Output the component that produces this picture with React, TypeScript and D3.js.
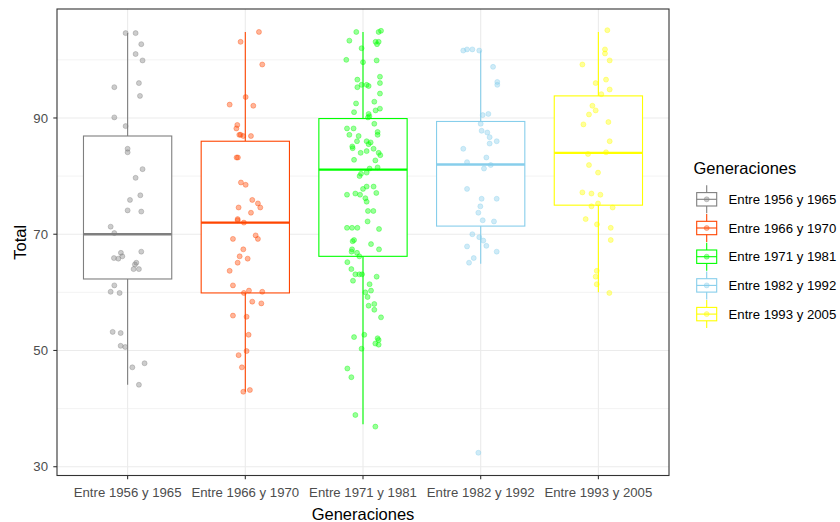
import React from "react";
import * as d3 from "d3";

// categorias y colores
const generaciones = [
  "Entre 1956 y 1965",
  "Entre 1966 y 1970",
  "Entre 1971 y 1981",
  "Entre 1982 y 1992",
  "Entre 1993 y 2005",
];
const colores = ["#7F7F7F", "#FF4500", "#00FF00", "#87CEEB", "#FFFF00"];

// estadisticos de las cajas
const bigoteInf = [44.1, 42.9, 37.3, 64.9, 60.0];
const q1 = [62.3, 59.9, 66.2, 71.4, 75.0];
const mediana = [70.0, 72.0, 81.1, 82.0, 84.0];
const q3 = [86.9, 86.0, 89.9, 89.4, 93.8];
const bigoteSup = [104.6, 104.8, 104.8, 101.6, 104.8];

const yTicks = [30, 50, 70, 90];
const yMinor = [40, 60, 80, 100];

// puntos: [desplazamiento jitter, Total]
const puntos1956: [number, number][] = [
  [-0.017, 104.6], [0.068, 104.6], [0.116, 102.7], [0.068, 101.0], [0.127, 99.9],
  [0.096, 96.0], [-0.113, 95.3], [0.105, 93.8], [-0.113, 90.1], [-0.017, 88.6],
  [0, 84.7], [0, 84.1], [0.127, 81.2], [0.068, 79.7], [0.108, 76.7],
  [0.02, 75.9], [0, 74.1], [0.116, 73.9], [-0.144, 71.3], [-0.113, 70.2],
  [0.116, 67.0], [-0.057, 66.8], [-0.045, 66.2], [-0.116, 65.9], [-0.079, 65.8],
  [0.074, 65.1], [0.062, 64.8], [0.051, 64.0], [0.096, 64.0], [-0.113, 61.2],
  [-0.144, 60.1], [-0.068, 59.9], [-0.127, 53.2], [-0.059, 53.0], [-0.059, 50.8],
  [-0.02, 50.6], [0.144, 47.8], [0.04, 47.1], [0.096, 44.1],
];
const puntos1966: [number, number][] = [
  [0.116, 104.8], [-0.04, 103.1], [0.144, 99.2], [0.003, 93.6], [-0.133, 92.3],
  [0.068, 92.1], [-0.068, 88.8], [-0.076, 88.2], [-0.051, 87.1], [-0.04, 87.1],
  [-0.017, 86.9], [0.048, 86.9], [-0.074, 83.2], [-0.063, 83.2], [-0.037, 78.9],
  [0.003, 78.5], [0.059, 75.9], [0.107, 75.3], [0.127, 74.6], [-0.057, 74.6],
  [0.048, 73.7], [-0.065, 72.6], [-0.065, 72.4], [-0.012, 72.0], [0.088, 69.8],
  [-0.105, 69.2], [0.107, 69.2], [-0.017, 67.4], [-0.048, 66.2], [0.02, 65.8],
  [-0.065, 65.1], [-0.133, 63.7], [-0.105, 61.2], [0.031, 60.3], [0.144, 60.1],
  [-0.012, 59.9], [0.059, 58.4], [0.136, 58.1], [-0.105, 56.0], [0.011, 55.8],
  [0.028, 52.7], [0.011, 49.9], [-0.057, 49.2], [-0.029, 47.1], [0.039, 43.2],
  [-0.017, 42.9],
];
const puntos1971: [number, number][] = [
  [-0.057, 104.8], [0.133, 104.8], [0.153, 105.0], [-0.116, 103.3], [0.107, 103.1],
  [0.133, 103.1], [0.119, 102.7], [-0.012, 102.0], [-0.142, 100.0], [0.116, 99.9],
  [0, 99.6], [-0.048, 96.6], [0.144, 97.1], [-0.012, 95.7], [0.031, 95.7],
  [0.048, 95.5], [-0.048, 95.3], [0.144, 96.0], [0.144, 94.2], [-0.059, 92.5],
  [0.096, 92.8], [-0.076, 91.0], [0.107, 91.3], [0.144, 91.6], [0.048, 90.7],
  [0.054, 90.3], [0.042, 90.1], [-0.136, 88.2], [-0.08, 88.2], [0.096, 89.0],
  [0.124, 87.6], [0.124, 87.1], [-0.116, 87.1], [-0.037, 86.9], [-0.051, 86.0],
  [0.031, 86.0], [0.065, 85.8], [-0.091, 85.1], [-0.088, 84.8], [0.048, 85.5],
  [0.09, 84.7], [0.031, 84.3], [-0.02, 84.0], [0.133, 84.0], [0.147, 83.6],
  [-0.076, 82.8], [0.105, 82.7], [0.056, 81.3], [0.124, 81.5], [-0.017, 80.4],
  [-0.029, 80.0], [0.031, 80.6], [0.031, 78.2], [0.09, 78.2], [0, 77.8],
  [-0.136, 76.8], [-0.065, 77.0], [-0.025, 76.8], [0.02, 76.2], [0.031, 75.6],
  [0.113, 77.1], [0.042, 74.0], [0.088, 74.0], [0.039, 72.2], [-0.136, 71.1],
  [-0.093, 71.1], [-0.048, 71.1], [0.136, 70.9], [-0.076, 69.0], [-0.088, 68.8],
  [0.068, 68.3], [-0.093, 67.4], [0.136, 67.4], [-0.097, 67.0], [-0.051, 66.8],
  [-0.031, 66.2], [-0.133, 65.2], [-0.099, 64.0], [-0.065, 63.1], [-0.031, 63.1],
  [-0.008, 63.1], [0.116, 62.7], [-0.085, 62.0], [0.056, 61.4], [0.068, 60.3],
  [0.02, 60.0], [0.039, 59.2], [0.048, 57.7], [0.096, 58.0], [0.096, 57.0],
  [0.153, 55.7], [0.011, 52.7], [-0.076, 52.3], [0.124, 52.1], [0.133, 51.8],
  [0.105, 51.2], [0.133, 51.0], [-0.012, 50.3], [-0.133, 46.9], [-0.099, 45.4],
  [-0.065, 38.9], [0.105, 36.9],
];
const puntos1982: [number, number][] = [
  [-0.148, 101.6], [-0.116, 101.8], [-0.071, 101.8], [-0.012, 101.6], [0.105, 98.8],
  [0.141, 96.2], [0.141, 95.7], [0.017, 90.5], [0.065, 90.7], [0, 89.0],
  [0.008, 87.8], [0.056, 87.5], [0.076, 86.7], [0.076, 85.6], [0.136, 86.0],
  [-0.148, 84.7], [0.048, 83.2], [-0.116, 82.4], [0.085, 81.9], [0.028, 81.3],
  [-0.116, 77.8], [0.008, 76.1], [0.136, 76.1], [-0.003, 74.8], [-0.02, 73.7],
  [0.017, 72.4], [0.113, 72.2], [-0.071, 70.0], [-0.012, 69.5], [0.022, 68.9],
  [0.048, 68.0], [-0.116, 67.9], [0.136, 67.0], [-0.059, 65.9], [-0.099, 65.1],
  [-0.02, 32.4],
];
const puntos1993: [number, number][] = [
  [0.076, 105.1], [0.056, 101.8], [0.056, 101.1], [0.096, 99.9], [-0.136, 99.2],
  [0.065, 96.6], [-0.023, 96.0], [0.096, 94.9], [0.025, 94.1], [-0.051, 92.1],
  [-0.023, 91.3], [-0.08, 90.6], [-0.127, 88.9], [0.085, 89.3], [0.096, 86.0],
  [-0.088, 83.8], [0.065, 84.1], [-0.08, 81.9], [-0.003, 80.6], [-0.136, 77.2],
  [-0.059, 77.0], [0.017, 76.8], [-0.059, 74.8], [-0.003, 75.3], [0.121, 74.6],
  [-0.108, 72.6], [-0.012, 71.7], [0.105, 71.1], [0.105, 69.0], [-0.014, 63.7],
  [-0.023, 62.7], [-0.014, 61.4], [0.093, 59.9],
];
const puntos = [puntos1956, puntos1966, puntos1971, puntos1982, puntos1993];

const FONT = "'Liberation Sans', Arial, sans-serif";
const panel = { left: 57, right: 669, top: 9, bottom: 475.5 };

export default function App() {
  const x = d3
    .scalePoint<string>()
    .domain(generaciones)
    .range([panel.left, panel.right])
    .padding(0.6);
  const y = d3.scaleLinear().domain([28.49, 108.75]).range([panel.bottom, panel.top]);
  const step = x.step();
  const boxW = step * 0.75;

  return (
    <svg
      width={840}
      height={522}
      style={{ position: "absolute", left: 0, top: 0, background: "#fff" }}
      fontFamily={FONT}
    >
      <rect x={0} y={0} width={840} height={522} fill="#fff" />
      {/* rejilla */}
      {yMinor.map((t) => (
        <line key={"m" + t} x1={panel.left} x2={panel.right} y1={y(t)} y2={y(t)} stroke="#EBEBEB" strokeWidth={0.6} />
      ))}
      {yTicks.map((t) => (
        <line key={"g" + t} x1={panel.left} x2={panel.right} y1={y(t)} y2={y(t)} stroke="#EBEBEB" strokeWidth={1.1} />
      ))}
      {generaciones.map((g) => (
        <line key={"gx" + g} x1={x(g)} x2={x(g)} y1={panel.top} y2={panel.bottom} stroke="#EBEBEB" strokeWidth={1.1} />
      ))}

      {/* cajas */}
      {generaciones.map((g, i) => {
        const cx = x(g)!;
        return (
          <g key={"box" + g} stroke={colores[i]} fill="none">
            <line x1={cx} x2={cx} y1={y(bigoteSup[i])} y2={y(q3[i])} strokeWidth={1.1} />
            <line x1={cx} x2={cx} y1={y(q1[i])} y2={y(bigoteInf[i])} strokeWidth={1.1} />
            <rect x={cx - boxW / 2} y={y(q3[i])} width={boxW} height={y(q1[i]) - y(q3[i])} fill="#fff" strokeWidth={1.1} />
            <line x1={cx - boxW / 2} x2={cx + boxW / 2} y1={y(mediana[i])} y2={y(mediana[i])} strokeWidth={2.3} />
          </g>
        );
      })}

      {/* puntos */}
      {generaciones.map((g, i) => (
        <g key={"pts" + g} fill={colores[i]} stroke={colores[i]} fillOpacity={0.4} strokeOpacity={0.4} strokeWidth={0.9}>
          {puntos[i].map(([dx, v], j) => (
            <circle key={j} cx={x(g)! + dx * step} cy={y(v)} r={2.5} />
          ))}
        </g>
      ))}

      {/* borde del panel */}
      <rect
        x={panel.left}
        y={panel.top}
        width={panel.right - panel.left}
        height={panel.bottom - panel.top}
        fill="none"
        stroke="#333333"
        strokeWidth={1.1}
      />

      {/* eje y */}
      {yTicks.map((t) => (
        <g key={"yt" + t}>
          <line x1={panel.left - 3.7} x2={panel.left} y1={y(t)} y2={y(t)} stroke="#333333" strokeWidth={1.1} />
          <text x={panel.left - 9} y={y(t) + 4.6} textAnchor="end" fontSize={13.2} fill="#4D4D4D">
            {t}
          </text>
        </g>
      ))}
      <text
        transform={`translate(26,${(panel.top + panel.bottom) / 2}) rotate(-90)`}
        textAnchor="middle"
        fontSize={16.5}
        fill="#000"
      >
        Total
      </text>

      {/* eje x */}
      {generaciones.map((g) => (
        <g key={"xt" + g}>
          <line x1={x(g)} x2={x(g)} y1={panel.bottom} y2={panel.bottom + 3.7} stroke="#333333" strokeWidth={1.1} />
          <text x={x(g)} y={panel.bottom + 21} textAnchor="middle" fontSize={13.2} fill="#4D4D4D">
            {g}
          </text>
        </g>
      ))}
      <text x={(panel.left + panel.right) / 2} y={519.5} textAnchor="middle" fontSize={16.5} fill="#000">
        Generaciones
      </text>

      {/* leyenda */}
      <text x={693.5} y={173.5} fontSize={16.5} fill="#000">
        Generaciones
      </text>
      {generaciones.map((g, i) => {
        const cy = 199.3 + i * 28.7;
        const kx = 706.7;
        return (
          <g key={"lg" + g}>
            <g stroke={colores[i]} fill="none" strokeWidth={1.1}>
              <line x1={kx} x2={kx} y1={cy - 14} y2={cy + 14} />
              <rect x={kx - 10} y={cy - 6.7} width={20} height={13.4} fill="#fff" />
              <line x1={kx - 10} x2={kx + 10} y1={cy} y2={cy} />
            </g>
            <circle cx={kx} cy={cy} r={2.5} fill={colores[i]} stroke={colores[i]} fillOpacity={0.4} strokeOpacity={0.4} strokeWidth={0.9} />
            <text x={728.5} y={cy + 4.6} fontSize={13.2} fill="#000">
              {g}
            </text>
          </g>
        );
      })}
    </svg>
  );
}
